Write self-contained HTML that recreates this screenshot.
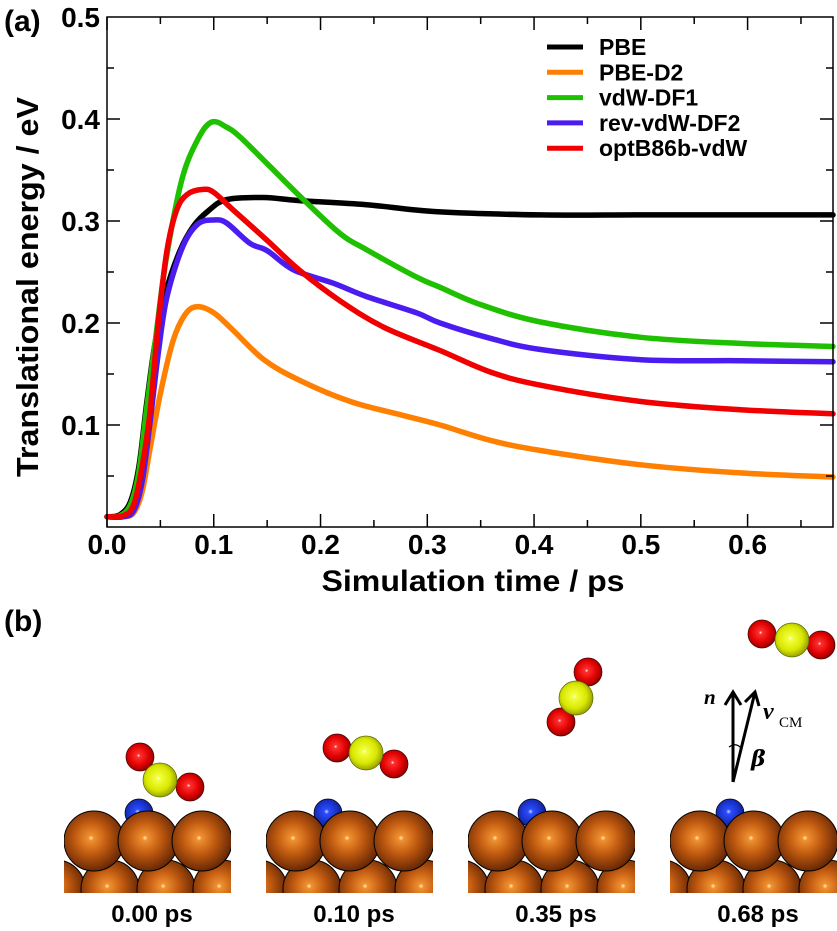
<!DOCTYPE html>
<html><head><meta charset="utf-8"><style>
html,body{margin:0;padding:0;background:#fff;}
svg{display:block;font-family:"Liberation Sans",Arial,sans-serif;}
</style></head><body>
<svg id="fig" width="837" height="931" viewBox="0 0 837 931" xmlns="http://www.w3.org/2000/svg">
<defs>
<radialGradient id="gCu" cx="0.45" cy="0.45" r="0.6"><stop offset="0" stop-color="#fff3c0"/><stop offset="0.07" stop-color="#f09030"/><stop offset="0.45" stop-color="#c05a10"/><stop offset="1" stop-color="#5a2003"/></radialGradient>
<radialGradient id="gO" cx="0.45" cy="0.45" r="0.6"><stop offset="0" stop-color="#fff"/><stop offset="0.1" stop-color="#ff3030"/><stop offset="0.6" stop-color="#e00000"/><stop offset="1" stop-color="#800000"/></radialGradient>
<radialGradient id="gS" cx="0.45" cy="0.45" r="0.6"><stop offset="0" stop-color="#fff"/><stop offset="0.1" stop-color="#f4ff40"/><stop offset="0.6" stop-color="#d8e800"/><stop offset="1" stop-color="#8a9000"/></radialGradient>
<radialGradient id="gN" cx="0.45" cy="0.45" r="0.6"><stop offset="0" stop-color="#cfd8ff"/><stop offset="0.15" stop-color="#2a4cff"/><stop offset="1" stop-color="#0a1a90"/></radialGradient>
</defs>
<g id="chart"></g>
<g id="panelb"></g>
</svg>
<script>
const NS="http://www.w3.org/2000/svg";
const seriesNames=["PBE","PBE-D2","vdW-DF1","rev-vdW-DF2","optB86b-vdW"];
const seriesColors=["#000000","#ff7f00","#1ec000","#4a1cf0","#f00000"];
const tPBE=[0,0.012,0.022,0.03,0.037,0.045,0.055,0.068,0.081,0.095,0.112,0.147,0.18,0.243,0.31,0.406,0.5,0.6,0.68];
const ePBE=[0.01,0.012,0.025,0.06,0.12,0.18,0.23,0.27,0.295,0.31,0.321,0.323,0.32,0.316,0.309,0.306,0.306,0.306,0.306];
const tD2=[0,0.015,0.025,0.033,0.04,0.05,0.062,0.073,0.084,0.1,0.118,0.147,0.18,0.228,0.275,0.312,0.359,0.406,0.5,0.593,0.68];
const eD2=[0.01,0.01,0.014,0.035,0.075,0.131,0.183,0.208,0.216,0.21,0.193,0.164,0.144,0.123,0.11,0.1,0.085,0.075,0.061,0.053,0.049];
const tDF1=[0,0.012,0.022,0.03,0.037,0.045,0.055,0.07,0.085,0.098,0.112,0.125,0.153,0.181,0.218,0.243,0.29,0.312,0.35,0.406,0.5,0.593,0.68];
const eDF1=[0.01,0.011,0.022,0.055,0.115,0.18,0.26,0.34,0.38,0.397,0.392,0.382,0.353,0.324,0.288,0.272,0.245,0.235,0.218,0.201,0.186,0.18,0.177];
const tDF2=[0,0.015,0.025,0.033,0.04,0.048,0.056,0.071,0.085,0.1,0.112,0.134,0.15,0.175,0.212,0.243,0.29,0.312,0.359,0.406,0.5,0.593,0.68];
const eDF2=[0.01,0.01,0.016,0.045,0.1,0.17,0.225,0.275,0.297,0.301,0.298,0.278,0.271,0.252,0.239,0.226,0.21,0.2,0.185,0.174,0.164,0.163,0.162];
const tOpt=[0,0.015,0.025,0.033,0.04,0.048,0.056,0.065,0.075,0.09,0.1,0.118,0.15,0.18,0.218,0.259,0.312,0.359,0.406,0.5,0.593,0.68];
const eOpt=[0.01,0.011,0.022,0.06,0.11,0.2,0.27,0.31,0.326,0.331,0.328,0.311,0.281,0.252,0.222,0.196,0.173,0.152,0.139,0.123,0.115,0.111];
const xTicks=["0.0","0.1","0.2","0.3","0.4","0.5","0.6"];
const yTicks=["0.1","0.2","0.3","0.4","0.5"];
const X0=107,X1=833,Y0=527,Y1=17,XMAX=0.68,YMAX=0.5;
function sx(v){return X0+v/XMAX*(X1-X0);}
function sy(v){return Y0-v/YMAX*(Y0-Y1);}
const chart=document.getElementById('chart');
function mk(tag,attrs,parent){const e=document.createElementNS(NS,tag);for(const k in attrs)e.setAttribute(k,attrs[k]);(parent||chart).appendChild(e);return e;}
function smooth(P){let d="M"+P[0][0].toFixed(1)+","+P[0][1].toFixed(1);
  for(let i=0;i<P.length-1;i++){const p0=P[Math.max(0,i-1)],p1=P[i],p2=P[i+1],p3=P[Math.min(P.length-1,i+2)];
    const c1=[p1[0]+(p2[0]-p0[0])/6,p1[1]+(p2[1]-p0[1])/6],c2=[p2[0]-(p3[0]-p1[0])/6,p2[1]-(p3[1]-p1[1])/6];
    d+="C"+c1[0].toFixed(1)+","+c1[1].toFixed(1)+" "+c2[0].toFixed(1)+","+c2[1].toFixed(1)+" "+p2[0].toFixed(1)+","+p2[1].toFixed(1);}
  return d;}
const ts=[tPBE,tD2,tDF1,tDF2,tOpt], es=[ePBE,eD2,eDF1,eDF2,eOpt];
[0,1,2,3,4].forEach(i=>{
  const P=ts[i].map((t,j)=>[sx(t),sy(es[i][j])]);
  const p=mk('path',{d:smooth(P),fill:"none",stroke:seriesColors[i],"stroke-width":5.5,"stroke-linejoin":"round","stroke-linecap":"round"});
  
  
});
const frame=mk('rect',{x:X0,y:Y1,width:X1-X0,height:Y0-Y1,fill:"none",stroke:"#000","stroke-width":1.5});


for(let k=0;k<=13;k++){const v=k*0.05;const x=sx(v);const L=(k%2==0)?13:7;
  mk('line',{x1:x,x2:x,y1:Y0,y2:Y0-L,stroke:"#000","stroke-width":1.5});
  mk('line',{x1:x,x2:x,y1:Y1,y2:Y1+L,stroke:"#000","stroke-width":1.5});}
for(let k=1;k<=9;k++){const v=k*0.05;const y=sy(v);const L=(k%2==0)?13:7;
  mk('line',{x1:X0,x2:X0+L,y1:y,y2:y,stroke:"#000","stroke-width":1.5});
  mk('line',{x1:X1,x2:X1-L,y1:y,y2:y,stroke:"#000","stroke-width":1.5});}
xTicks.forEach(s=>{const t=mk('text',{x:sx(parseFloat(s)),y:554,"text-anchor":"middle","font-size":28,"font-weight":"bold"});t.textContent=s;
  
  });
yTicks.forEach(s=>{const t=mk('text',{x:100,y:sy(parseFloat(s))+10,"text-anchor":"end","font-size":28,"font-weight":"bold"});t.textContent=s;
  
  });
const xt=mk('text',{x:473,y:591,"text-anchor":"middle","font-size":30,"font-weight":"bold",textLength:303,lengthAdjust:"spacingAndGlyphs"});xt.textContent="Simulation time / ps";


const yt=mk('text',{x:0,y:0,"text-anchor":"middle","font-size":31,"font-weight":"bold",transform:"translate(38,287) rotate(-90)",textLength:380,lengthAdjust:"spacingAndGlyphs"});yt.textContent="Translational energy / eV";


const la=mk('text',{x:4,y:31,"font-size":30,"font-weight":"bold"});la.textContent="(a)";


seriesNames.forEach((n,i)=>{const y=47+i*25.3;
  const g=mk('g',{});
  
  
  mk('line',{x1:547,x2:583,y1:y,y2:y,stroke:seriesColors[i],"stroke-width":5},g);
  const t=mk('text',{x:599,y:y+8,"font-size":23,"font-weight":"bold"},g);t.textContent=n;});
// panel b
const pb=document.getElementById('panelb');
const lb=mk('text',{x:4,y:631,"font-size":30,"font-weight":"bold"},pb);lb.textContent="(b)";


const slabX=[64,266,468,670];
const labels=["0.00 ps","0.10 ps","0.35 ps","0.68 ps"];
const blueX=[139,328,532,730];
const mols=[[[140,757],[160,780],[190,787]],[[337,748],[366,753],[394,764]],[[588,672],[576,698],[561,722]],[[762,634],[792,640],[821,645]]];
slabX.forEach((x0,i)=>{
  const g=mk('g',{},pb);
  
  
  const cp=mk('clipPath',{id:'cp'+i},g);mk('rect',{x:x0,y:780,width:167,height:113},cp);
  const cg=mk('g',{"clip-path":"url(#cp"+i+")"},g);
  mk('circle',{cx:blueX[i],cy:813,r:14,fill:"url(#gN)",stroke:"#000","stroke-width":0.7},cg);
  [ -8,46,102,158].forEach(o=>mk('circle',{cx:x0+o,cy:889,r:29,fill:"url(#gCu)",stroke:"#000","stroke-width":1},cg));
  [30,84,138].forEach(o=>mk('circle',{cx:x0+o,cy:841,r:30,fill:"url(#gCu)",stroke:"#000","stroke-width":1},cg));
  const m=mols[i];
  mk('circle',{cx:m[0][0],cy:m[0][1],r:14,fill:"url(#gO)",stroke:"#400","stroke-width":0.7},g);
  mk('circle',{cx:m[2][0],cy:m[2][1],r:14,fill:"url(#gO)",stroke:"#400","stroke-width":0.7},g);
  mk('circle',{cx:m[1][0],cy:m[1][1],r:17,fill:"url(#gS)",stroke:"#560","stroke-width":0.7},g);
  const t=mk('text',{x:x0+88,y:922,"text-anchor":"middle","font-size":24,"font-weight":"bold"},g);t.textContent=labels[i];
  
  
});
const ar=mk('g',{stroke:"#000","stroke-width":3,fill:"none"},pb);


mk('path',{d:"M733,782 L733,692 M725,705 L733,692 L741,705"},ar);
mk('path',{d:"M733,782 L755,692 M745,702 L755,692 L759,706"},ar);
mk('path',{d:"M729,747 Q736,742 741,748","stroke-width":1.2},ar);
const tn=mk('text',{x:704,y:704,"font-size":21,"font-weight":"bold","font-style":"italic","font-family":"Liberation Serif,serif"},pb);tn.textContent="n";


const tv=mk('text',{x:763,y:719,"font-size":24,"font-weight":"bold","font-style":"italic","font-family":"Liberation Serif,serif"},pb);tv.textContent="v";


const tc=mk('text',{x:779,y:727,"font-size":15,"font-family":"Liberation Serif,serif"},pb);tc.textContent="CM";


const tb=mk('text',{x:751,y:766,"font-size":22,"font-weight":"bold","font-style":"italic","font-family":"DejaVu Serif,serif"},pb);tb.textContent="β";


</script>
</body></html>
